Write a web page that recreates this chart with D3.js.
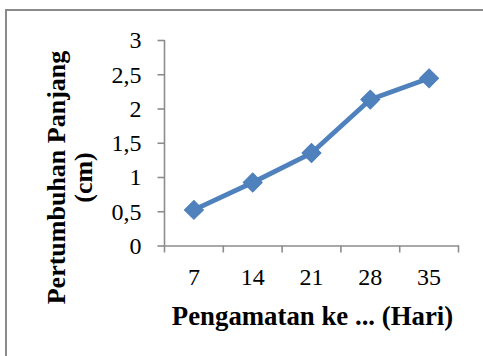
<!DOCTYPE html>
<html>
<head>
<meta charset="utf-8">
<script src="https://cdn.jsdelivr.net/npm/d3@7"></script>
<style>
  html, body { margin: 0; padding: 0; background: #fff; }
  svg { display: block; }
</style>
</head>
<body>
<script>
const categories = ["7", "14", "21", "28", "35"];
const values = [0.52, 0.92, 1.35, 2.13, 2.44];
const yTicks = [0, 0.5, 1, 1.5, 2, 2.5, 3];
const xTitle = "Pengamatan ke ... (Hari)";
const yTitleLines = ["Pertumbuhan Panjang", "(cm)"];

const FONT = "Liberation Serif";
const W = 483, H = 356;
const svg = d3.select("body").append("svg").attr("width", W).attr("height", H);

// outer chart border (extends beyond the visible window on right and bottom)
svg.append("rect")
  .attr("x", 6).attr("y", 10).attr("width", 520).attr("height", 420)
  .attr("fill", "none").attr("stroke", "#8a8a8a").attr("stroke-width", 2);

const x = d3.scaleBand().domain(categories).range([164.5, 458.5]);
const y = d3.scaleLinear().domain([0, 3]).range([245.5, 40]);

const axisColor = "#8c8c8c";

// Y axis
const yAxis = svg.append("g").attr("transform", "translate(164.5,0)")
  .call(d3.axisLeft(y).tickValues(yTicks).tickSize(7).tickPadding(16)
    .tickFormat(d => String(d).replace(".", ",")));
yAxis.select(".domain").attr("stroke", axisColor).attr("stroke-width", 1.6).attr("d", `M0,${y(3)}V${y(0)}`);
yAxis.selectAll(".tick line").attr("stroke", axisColor).attr("stroke-width", 1.6);
yAxis.selectAll(".tick text").style("font-size", "24px").style("font-family", FONT).attr("fill", "#000").attr("dy", "0.33em");

// X axis
const xAxis = svg.append("g").attr("transform", `translate(0,${y(0)})`)
  .call(d3.axisBottom(x).tickSize(0).tickPadding(22));
xAxis.select(".domain").attr("stroke", axisColor).attr("stroke-width", 1.6);
xAxis.selectAll(".tick text").style("font-size", "24px").style("font-family", FONT).attr("fill", "#000");
const bounds = categories.map(c => x(c)).concat([x.range()[1]]);
xAxis.selectAll(".bound").data(bounds).enter().append("line")
  .attr("x1", d => d).attr("x2", d => d).attr("y1", 0).attr("y2", 7)
  .attr("stroke", axisColor).attr("stroke-width", 1.6);

// line
const cx = c => x(c) + x.bandwidth() / 2;
const line = d3.line().x((d, i) => cx(categories[i])).y(d => y(d));
svg.append("path").datum(values)
  .attr("d", line).attr("fill", "none")
  .attr("stroke", "#4F81BD").attr("stroke-width", 4.8).attr("stroke-linejoin", "round");

// markers (diamonds)
svg.selectAll(".mk").data(values).enter().append("path")
  .attr("d", d3.symbol().type(d3.symbolSquare).size(180))
  .attr("transform", (d, i) => `translate(${cx(categories[i])},${y(d)}) rotate(45)`)
  .attr("fill", "#4F81BD").attr("stroke", "#4A7EBB").attr("stroke-width", 1);

// axis titles
svg.append("text").attr("x", 312.5).attr("y", 325)
  .attr("text-anchor", "middle")
  .style("font-family", FONT).style("font-size", "26.8px").style("font-weight", "bold").attr("fill", "#000")
  .text(xTitle);

const yt = svg.append("g").attr("transform", "translate(0,177.5) rotate(-90)");
yt.selectAll("text").data(yTitleLines).enter().append("text")
  .attr("x", 0).attr("y", (d, i) => 65 + i * 27)
  .attr("text-anchor", "middle")
  .style("font-family", FONT).style("font-size", "26px").style("font-weight", "bold").attr("fill", "#000")
  .text(d => d);
</script>
</body>
</html>
